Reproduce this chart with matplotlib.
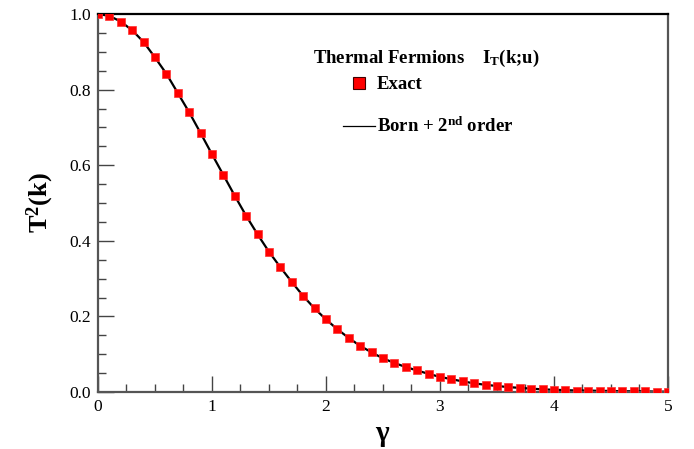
import matplotlib
matplotlib.use('Agg')
import matplotlib.pyplot as plt
from matplotlib.ticker import MultipleLocator, FormatStrFormatter
from matplotlib.lines import Line2D

plt.rcParams['font.family'] = ['Liberation Serif', 'DejaVu Serif']
plt.rcParams['mathtext.fontset'] = 'custom'
plt.rcParams['mathtext.rm'] = 'Liberation Serif'
plt.rcParams['mathtext.bf'] = 'Liberation Serif:bold'
plt.rcParams['mathtext.it'] = 'Liberation Serif:italic'

# gamma values (x)
gamma = [0.0, 0.1, 0.2, 0.3, 0.4, 0.5, 0.6, 0.7, 0.8, 0.9,
         1.0, 1.1, 1.2, 1.3, 1.4, 1.5, 1.6, 1.7, 1.8, 1.9,
         2.0, 2.1, 2.2, 2.3, 2.4, 2.5, 2.6, 2.7, 2.8, 2.9,
         3.0, 3.1, 3.2, 3.3, 3.4, 3.5, 3.6, 3.7, 3.8, 3.9,
         4.0, 4.1, 4.2, 4.3, 4.4, 4.5, 4.6, 4.7, 4.8, 4.9, 5.0]

# exact T^2(k)
exact = [1.000, 0.995, 0.980, 0.957, 0.926, 0.885, 0.842, 0.791, 0.740, 0.685,
         0.629, 0.574, 0.519, 0.466, 0.417, 0.371, 0.330, 0.291, 0.254, 0.221,
         0.192, 0.166, 0.143, 0.122, 0.105, 0.089, 0.077, 0.066, 0.057, 0.048,
         0.040, 0.034, 0.028, 0.023, 0.019, 0.016, 0.013, 0.011, 0.009, 0.007,
         0.006, 0.005, 0.004, 0.004, 0.003, 0.003, 0.002, 0.002, 0.002, 0.001, 0.001]

# Born + 2nd order (lies on top of the exact values)
born2 = list(exact)

fig = plt.figure(figsize=(6.94, 4.49), dpi=100)
ax = fig.add_axes([0.1412, 0.1269, 0.8213, 0.8419])

ax.plot(gamma, born2, color='black', lw=1.6, zorder=2)
ax.plot(gamma, exact, ls='none', marker='s', ms=6, mfc='#ff0000',
        mec='#ff3030', mew=0.5, zorder=3)

ax.set_xlim(0, 5)
ax.set_ylim(0, 1.0)
ax.xaxis.set_major_locator(MultipleLocator(1))
ax.xaxis.set_minor_locator(MultipleLocator(0.25))
ax.yaxis.set_major_locator(MultipleLocator(0.2))
ax.yaxis.set_minor_locator(MultipleLocator(0.05))
ax.yaxis.set_major_formatter(FormatStrFormatter('%.1f'))
ax.tick_params(which='both', direction='in', top=False, right=False,
               colors='#444444', labelcolor='black', labelsize=12.5)
ax.tick_params(which='major', length=11.5, width=1.0, pad=5)
ax.tick_params(which='minor', length=5.8, width=1.0)

for side in ['left', 'bottom', 'right']:
    ax.spines[side].set_color('#555555')
    ax.spines[side].set_linewidth(1.6)
ax.spines['top'].set_color('black')
ax.spines['top'].set_linewidth(1.6)

ax.set_xlabel(r'$\mathbf{\gamma}$', fontsize=21, labelpad=6)
ax.set_ylabel(r'T$^\mathbf{2}$(k)', fontsize=19, fontweight='bold', labelpad=10)

ax.text(0.378, 0.883, r'Thermal Fermions    I$_\mathbf{T}$(k;u)', transform=ax.transAxes,
        fontsize=13.5, fontweight='bold', va='center', ha='left')

handles = [Line2D([], [], ls='none', marker='s', ms=9, mfc='#ff0000', mec='#400000', mew=0.8),
           Line2D([], [], color='black', lw=0.9)]
labels = ['Exact', r'Born + 2$^\mathbf{nd}$ order']
ax.legend(handles, labels, loc='upper left', bbox_to_anchor=(0.417, 0.855),
          frameon=False, prop={'size': 13.5, 'weight': 'bold'},
          handlelength=1.7, handletextpad=0.1, labelspacing=1.25,
          borderaxespad=0)

fig.savefig('out.png', dpi=100)
